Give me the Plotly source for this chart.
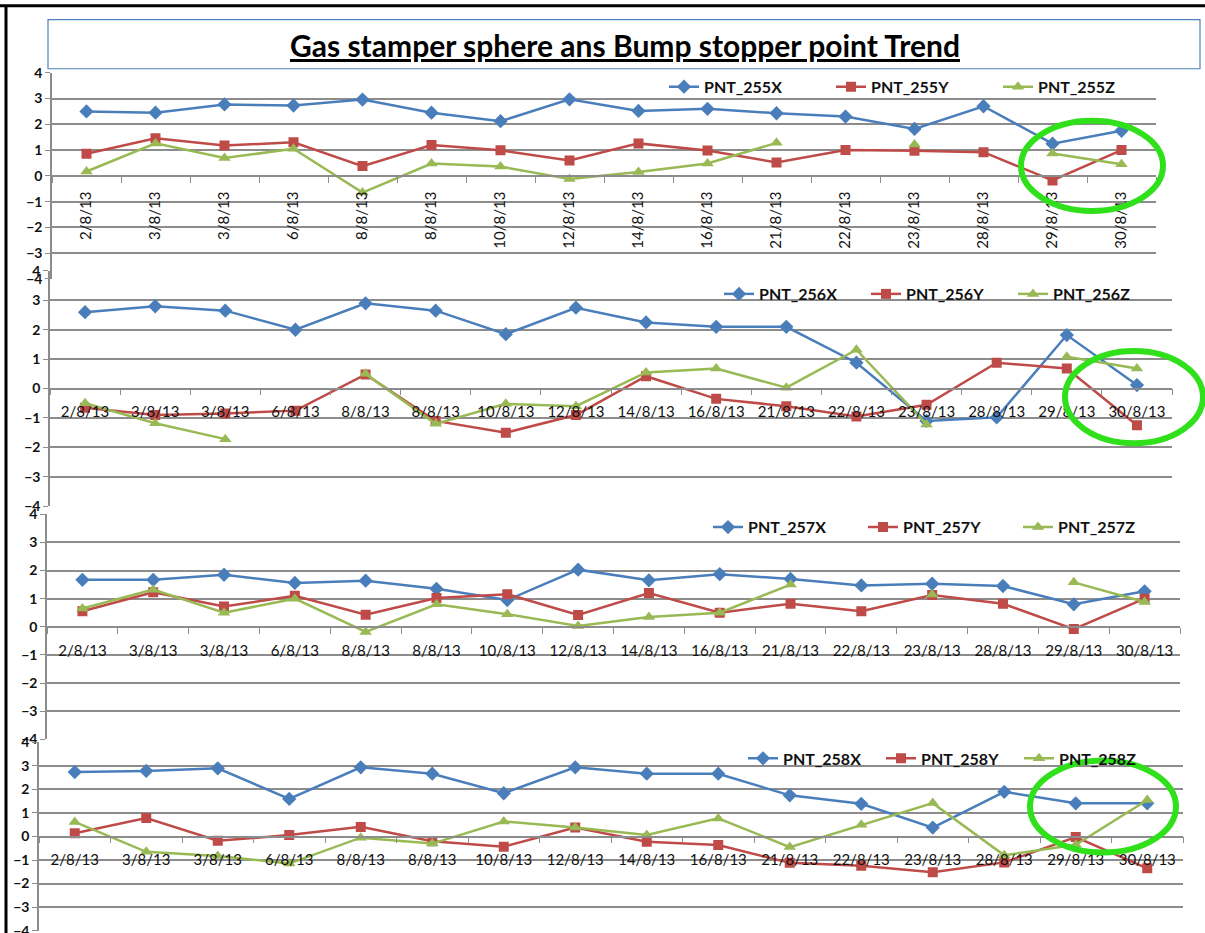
import plotly.graph_objects as go

W, H = 1205, 933
# the photographed page comes out shifted down ~8px and squeezed to ~98% vertically;
# these undo that so the panels land where the reference has them
TOP_PAD = 8.3
SY = 0.981
FIG_H = 943

dates = ["2/8/13", "3/8/13", "3/8/13", "6/8/13", "8/8/13", "8/8/13", "10/8/13", "12/8/13",
         "14/8/13", "16/8/13", "21/8/13", "22/8/13", "23/8/13", "28/8/13", "29/8/13", "30/8/13"]

pnt255x = [2.5, 2.45, 2.77, 2.73, 2.96, 2.45, 2.12, 2.97, 2.52, 2.6, 2.43, 2.3, 1.82, 2.7, 1.25, 1.75]
pnt255y = [0.86, 1.46, 1.18, 1.3, 0.38, 1.2, 0.99, 0.6, 1.26, 0.98, 0.52, 1.0, 0.97, 0.92, -0.18, 1.0]
pnt255z = [0.17, 1.26, 0.69, 1.05, -0.65, 0.48, 0.36, -0.12, 0.15, 0.48, 1.28, None, 1.22, None, 0.87, 0.45]

pnt256x = [2.6, 2.8, 2.65, 2.0, 2.9, 2.65, 1.85, 2.75, 2.25, 2.1, 2.1, 0.88, -1.1, -0.98, 1.82, 0.12]
pnt256y = [-0.65, -0.9, -0.85, -0.75, 0.48, -1.1, -1.5, -0.9, 0.42, -0.35, -0.6, -0.95, -0.55, 0.88, 0.68, -1.25]
pnt256z = [-0.5, -1.18, -1.72, None, 0.5, -1.2, -0.52, -0.6, 0.55, 0.68, 0.03, 1.32, -1.22, None, 1.08, 0.68]

pnt257x = [1.67, 1.67, 1.85, 1.56, 1.64, 1.35, 0.95, 2.03, 1.65, 1.87, 1.7, 1.47, 1.53, 1.45, 0.8, 1.26]
pnt257y = [0.55, 1.23, 0.72, 1.1, 0.43, 1.02, 1.16, 0.42, 1.2, 0.5, 0.82, 0.55, 1.13, 0.82, -0.08, 1.0]
pnt257z = [0.65, 1.32, 0.5, 1.0, -0.18, 0.8, 0.45, 0.03, 0.35, 0.5, 1.5, None, 1.15, None, 1.58, 0.88]

pnt258x = [2.74, 2.79, 2.9, 1.6, 2.94, 2.67, 1.84, 2.94, 2.67, 2.67, 1.75, 1.39, 0.38, 1.9, 1.41, 1.41]
pnt258y = [0.14, 0.79, -0.18, 0.06, 0.41, -0.2, -0.43, 0.38, -0.22, -0.36, -1.12, -1.24, -1.52, -1.1, -0.02, -1.35]
pnt258z = [0.62, -0.65, -0.83, -1.15, -0.05, -0.3, 0.64, 0.38, 0.07, 0.77, -0.45, 0.5, 1.42, -0.8, -0.35, 1.55]

yticks = [-4, -3, -2, -1, 0, 1, 2, 3, 4]

series = [
    ("255", pnt255x, pnt255y, pnt255z),
    ("256", pnt256x, pnt256y, pnt256z),
    ("257", pnt257x, pnt257y, pnt257z),
    ("258", pnt258x, pnt258y, pnt258z),
]

# pixel geometry of each stacked panel: left, right, top(4), bottom(-4), legend x/y/entry width, label angle
panels = [
    dict(l=52, r=1156, t=72, b=278, lx=664, ly=86, ew=122, angle=-90),
    dict(l=50, r=1172, t=270, b=505, lx=719, ly=293, ew=102, angle=0),
    dict(l=47, r=1180, t=513, b=738, lx=708, ly=526, ew=110, angle=0),
    dict(l=39, r=1183, t=741, b=929, lx=743, ly=757, ew=93, angle=0),
]

blue, red, green = "#4A7EBB", "#BE4B48", "#98B954"
grid = "#8C8C8C"
font_family = "Lato, Open Sans, sans-serif"


def fx(px):
    return px / W


def fy(py):
    return 1 - (py - TOP_PAD) / SY / FIG_H


idx = list(range(len(dates)))
fig = go.Figure()

for i, (code, xs, ys, zs) in enumerate(series):
    n = "" if i == 0 else str(i + 1)
    leg = "legend" + n
    for label, vals, col, sym, size in [("X", xs, blue, "diamond", 11),
                                         ("Y", ys, red, "square", 10),
                                         ("Z", zs, green, "triangle-up", 11)]:
        fig.add_trace(go.Scatter(
            x=idx, y=vals, mode="lines+markers",
            name="PNT_" + code + label,
            line=dict(color=col, width=2.5),
            marker=dict(color=col, symbol=sym, size=size),
            connectgaps=False,
            xaxis="x" + n, yaxis="y" + n, legend=leg,
        ))

    p = panels[i]
    fig.update_layout(**{
        "xaxis" + n: dict(
            domain=[fx(p["l"]), fx(p["r"])],
            anchor="free", position=fy((p["t"] + p["b"]) / 2),
            range=[-0.5, len(dates) - 0.5],
            tickmode="array", tickvals=idx, ticktext=dates,
            tickangle=p["angle"], ticks="", ticklabelstandoff=9 if p["angle"] else 10,
            showgrid=False, zeroline=False,
            showline=True, linecolor=grid, linewidth=1.5,
            minor=dict(tickmode="linear", tick0=-0.5, dtick=1, ticks="outside",
                       ticklen=6, tickcolor=grid, showgrid=False),
            tickfont=dict(family=font_family, size=15, color="#111"),
            fixedrange=True,
        ),
        "yaxis" + n: dict(
            domain=[fy(p["b"]), fy(p["t"])],
            anchor="x" + n,
            range=[-4, 4], tickvals=yticks,
            showgrid=True, gridcolor=grid, gridwidth=1.5,
            zeroline=False, showline=True, linecolor=grid, linewidth=1.5,
            ticks="outside", ticklen=5, tickcolor=grid,
            tickfont=dict(family=font_family, size=14, color="#111", weight="bold"),
            fixedrange=True,
        ),
        leg: dict(
            orientation="h", x=fx(p["lx"]), y=fy(p["ly"]),
            xanchor="left", yanchor="middle",
            bgcolor="rgba(0,0,0,0)", borderwidth=0,
            font=dict(family=font_family, size=16, color="#111", weight="bold"),
            entrywidth=p["ew"], itemwidth=30, tracegroupgap=0,
        ),
    })

shapes = [
    # title box
    dict(type="rect", xref="paper", yref="paper", x0=fx(48), x1=fx(1200), y0=fy(68), y1=fy(19),
         line=dict(color="#4F81BD", width=1.2)),
    # outer frame of the screenshot
    dict(type="line", xref="paper", yref="paper", x0=0, x1=1, y0=fy(5), y1=fy(5),
         line=dict(color="black", width=3)),
    dict(type="line", xref="paper", yref="paper", x0=fx(6), x1=fx(6), y0=0, y1=fy(5),
         line=dict(color="black", width=3)),
]
# highlight ellipses
for cx, cy, rx, ry in [(1092, 165, 71, 45), (1134, 396, 69, 46), (1103, 805, 73, 46)]:
    shapes.append(dict(type="circle", xref="paper", yref="paper",
                       x0=fx(cx - rx), x1=fx(cx + rx), y0=fy(cy + ry), y1=fy(cy - ry),
                       line=dict(color="#2FE01A", width=6), layer="above"))

fig.update_layout(
    width=W, height=FIG_H,
    margin=dict(l=0, r=0, t=0, b=0),
    paper_bgcolor="white", plot_bgcolor="rgba(0,0,0,0)",
    showlegend=True,
    shapes=shapes,
    annotations=[dict(
        text="<b><u>Gas stamper sphere ans Bump stopper point Trend</u></b>",
        xref="paper", yref="paper", x=fx(625), y=fy(44),
        xanchor="center", yanchor="middle", showarrow=False,
        font=dict(family=font_family, size=30, color="black"),
    )],
)

# drop the default page margin so the figure fills the window
fig.write_html("out.html", config={"displayModeBar": False},
               post_script="document.body.style.margin='0';"
                           "document.body.style.overflow='hidden';")
